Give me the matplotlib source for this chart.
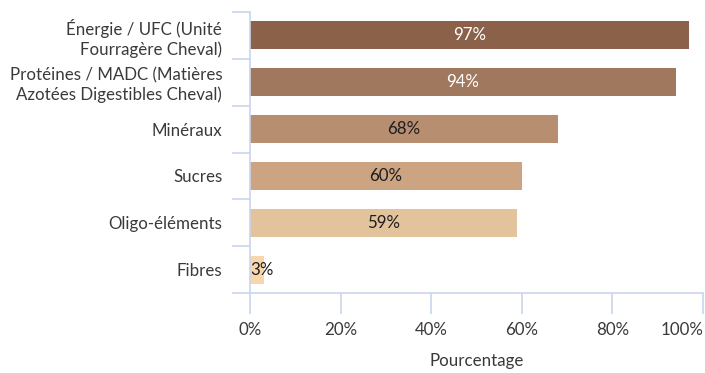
import matplotlib.pyplot as plt

# Composantes nutritionnelles et taux de couverture
categories = [
    "Énergie / UFC (Unité\nFourragère Cheval)",
    "Protéines / MADC (Matières\nAzotées Digestibles Cheval)",
    "Minéraux",
    "Sucres",
    "Oligo-éléments",
    "Fibres",
]
valeurs = [97, 94, 68, 60, 59, 3]
couleurs = ["#8b6249", "#a0785d", "#b78f70", "#cca482", "#e3c39b", "#f6d6aa"]
couleurs_texte = ["white", "white", "#1e1e1e", "#1e1e1e", "#1e1e1e", "#1e1e1e"]
graduations = [0, 20, 40, 60, 80, 100]

plt.rcParams["font.family"] = ["Lato", "DejaVu Sans"]
gris = "#3a3a3a"
axe = "#c9d5ec"
taille = 12.2

fig = plt.figure(figsize=(7.05, 3.73), dpi=100)
ax = fig.add_axes([250 / 705, 80 / 373, 453 / 705, 281 / 373])

pos = list(range(len(categories)))
ax.barh(pos, valeurs, height=0.6, color=couleurs)
for y, v, c in zip(pos, valeurs, couleurs_texte):
    x = v / 2 if v > 10 else 0.1
    ha = "center" if v > 10 else "left"
    ax.text(x, y, f"{v}%", ha=ha, va="center", color=c, fontsize=taille)

ax.set_ylim(len(categories) - 0.5, -0.5)
ax.set_xlim(0, 100)
ax.set_yticks(pos)
ax.set_yticklabels(categories, fontsize=taille, color=gris, linespacing=1.25)
ax.set_yticks([p - 0.5 for p in pos] + [len(pos) - 0.5], minor=True)
ax.tick_params(axis="y", which="major", length=0, pad=20)
ax.tick_params(axis="y", which="minor", length=13, color=axe, width=1.2)
ax.set_xticks(graduations)
ax.set_xticklabels([f"{g}%" for g in graduations], fontsize=taille, color=gris)
ax.get_xticklabels()[-1].set_horizontalalignment("right")
ax.tick_params(axis="x", length=15, color=axe, width=1.2, pad=6)
ax.set_xlabel("Pourcentage", fontsize=taille, color=gris, labelpad=11)

for s in ["top", "right"]:
    ax.spines[s].set_visible(False)
for s in ["left", "bottom"]:
    ax.spines[s].set_color(axe)
    ax.spines[s].set_linewidth(1.2)

fig.savefig("out.png", dpi=100)
